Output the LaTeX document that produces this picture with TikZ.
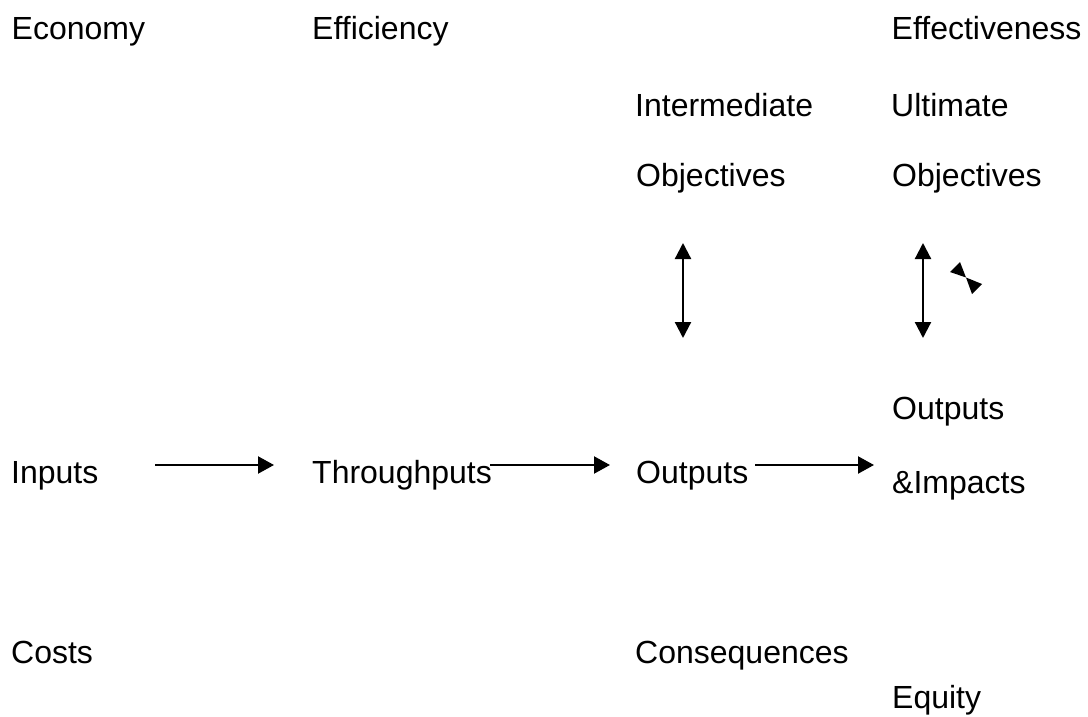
\documentclass[tikz,border=0pt]{standalone}
\usepackage{fontspec}
\setmainfont{Liberation Sans}
\usetikzlibrary{arrows.meta}
\begin{document}
\begin{tikzpicture}[x=1pt,y=-1pt,
  lbl/.style={anchor=base west,inner sep=0pt,font=\fontsize{32}{38}\selectfont},
  flow/.style={line width=2.2pt,-{Triangle[length=16pt,width=17pt]}},
  link/.style={line width=2.2pt,{Triangle[length=16pt,width=16pt]}-{Triangle[length=16pt,width=16pt]}}]
\useasboundingbox (0,0) rectangle (1088,717);
% column headings
\node[lbl] (economy) at (11.5,40) {Economy};
\node[lbl] (efficiency) at (312,40) {Efficiency};
\node[lbl] (effectiveness) at (891.5,40) {Effectiveness};
% objectives
\node[lbl] (interm) at (635,117) {Intermediate};
\node[lbl] (interobj) at (636,186) {Objectives};
\node[lbl] (ultimate) at (891,117) {Ultimate};
\node[lbl] (ultobj) at (892,186) {Objectives};
% main chain
\node[lbl] (inputs) at (11,483) {Inputs};
\node[lbl] (through) at (312,483) {Throughputs};
\node[lbl] (outputs) at (636,483) {Outputs};
\node[lbl] (outimp1) at (892,419) {Outputs};
\node[lbl] (outimp2) at (892,493) {\&Impacts};
% bottom row
\node[lbl] (costs) at (11,663) {Costs};
\node[lbl] (conseq) at (635,663) {Consequences};
\node[lbl] (equity) at (892,708) {Equity};
% arrow ends
\coordinate (a1s) at (155,465);
\coordinate (a1e) at (274,465);
\coordinate (a2s) at (490,465);
\coordinate (a2e) at (610,465);
\coordinate (a3s) at (755,465);
\coordinate (a3e) at (874,465);
\coordinate (v1t) at (683,243);
\coordinate (v1b) at (683,338);
\coordinate (v2t) at (923,243);
\coordinate (v2b) at (923,338);
\coordinate (bow) at (966,277.5);
\draw[flow] (a1s) -- (a1e);
\draw[flow] (a2s) -- (a2e);
\draw[flow] (a3s) -- (a3e);
\draw[link] (v1t) -- (v1b);
\draw[link] (v2t) -- (v2b);
% collapsed double arrow: two heads meeting tip to tip
\fill (bow) -- ++(-6,-15.5) -- ++(-10,10) -- cycle;
\fill (bow) -- ++(16,6.5) -- ++(-10,10) -- cycle;
\end{tikzpicture}
\end{document}
